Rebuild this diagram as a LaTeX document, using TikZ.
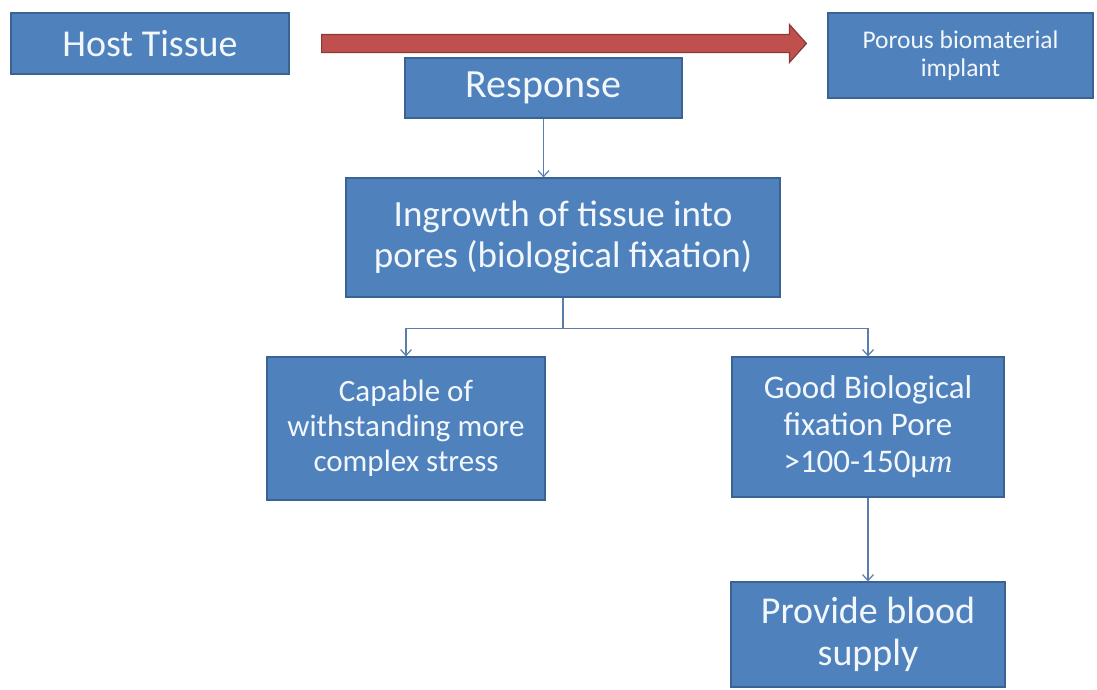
\documentclass[tikz,border=0pt]{standalone}
\usepackage{fontspec}
\setmainfont{Carlito}
\newfontfamily\unitfont{Liberation Serif}
\usetikzlibrary{arrows.meta,calc}
\definecolor{boxfill}{HTML}{4F81BD}
\definecolor{boxline}{HTML}{3A6393}
\definecolor{conn}{HTML}{5A7DB0}
\definecolor{redfill}{HTML}{C0504D}
\definecolor{redline}{HTML}{8C3A38}
\definecolor{txt}{HTML}{F2F7FC}
\tikzset{
  box/.style={draw=boxline, fill=boxfill, line width=1.2pt, text=txt, align=center, inner sep=0pt},
  connline/.style={draw=conn, line width=1.2pt},
  connarrow/.style={connline, -{Straight Barb[length=6pt,width=11pt,line width=1.2pt]}},
  redarrow/.style={draw=redline, fill=redfill, line width=1.2pt, line join=miter}
}
\begin{document}
\begin{tikzpicture}[x=1pt,y=-1pt]
\useasboundingbox (0,0) rectangle (1097,689);
\fill[white] (0,0) rectangle (1097,689);

\node[box, minimum width=278pt, minimum height=61pt, font=\fontsize{38}{42}\selectfont] (host) at (150,43.5) {Host Tissue};
\node[box, minimum width=277pt, minimum height=60pt, font=\fontsize{40}{44}\selectfont] (resp) at (543.5,88) {Response};
\node[box, minimum width=265pt, minimum height=85pt, font=\fontsize{25.5}{28}\selectfont] (porous) at (960.5,55.5) {Porous biomaterial\\implant};
\node[box, minimum width=434pt, minimum height=119pt, font=\fontsize{37}{41}\selectfont] (ingrowth) at (563,237.5) {Ingrowth of tissue into\\pores (biological fixation)};
\node[box, minimum width=278pt, minimum height=143pt, font=\fontsize{31}{35}\selectfont] (capable) at (406,428.5) {Capable of\\withstanding more\\complex stress};
\node[box, minimum width=272pt, minimum height=140pt, font=\fontsize{33}{37}\selectfont] (good) at (868,427) {Good Biological\\fixation Pore\\>100-150μ{\unitfont\itshape m}};
\node[box, minimum width=274pt, minimum height=105pt, font=\fontsize{38}{42}\selectfont] (provide) at (868,634.5) {Provide blood\\supply};

% red block arrow from Host Tissue towards the implant
\coordinate (rs) at ($(host.east)+(32,0)$);
\coordinate (re) at ($(porous.west |- rs)+(-21,0)$);
\draw[redarrow] ($(rs)+(0,-9)$) -- ($(re)+(-17,-9)$) -- ($(re)+(-17,-19)$) -- (re)
  -- ($(re)+(-17,19)$) -- ($(re)+(-17,9)$) -- ($(rs)+(0,9)$) -- cycle;

% connectors
\draw[connarrow] (resp.south) -- (resp.south |- ingrowth.north);
\coordinate (split) at ($(ingrowth.south)+(0,31)$);
\draw[connline] (ingrowth.south) -- (split);
\draw[connarrow] (split) -| (capable.north);
\draw[connarrow] (split) -| (good.north);
\draw[connarrow] (good.south) -- (provide.north);
\end{tikzpicture}
\end{document}
